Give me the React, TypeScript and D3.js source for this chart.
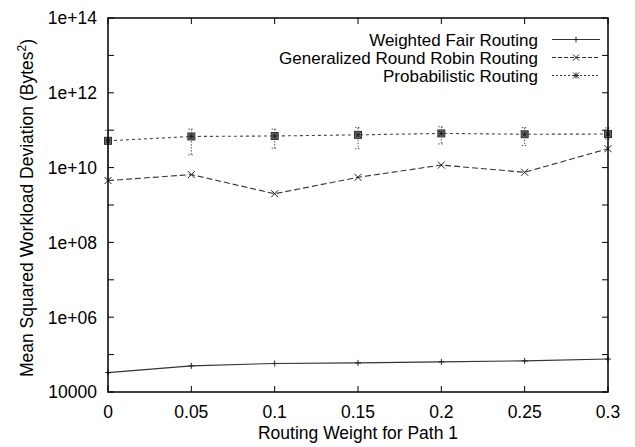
import React from "react";
import * as d3 from "d3";

const xs = [0, 0.05, 0.1, 0.15, 0.2, 0.25, 0.3];
const wfr = [3.3e4, 5.0e4, 5.8e4, 6.0e4, 6.4e4, 6.8e4, 7.6e4];
const grr = [4.5e9, 6.5e9, 2.0e9, 5.5e9, 1.17e10, 7.5e9, 3.2e10];
const prob = [5.2e10, 6.8e10, 7.0e10, 7.5e10, 8.2e10, 7.8e10, 7.9e10];
const probLow = [5.2e9, 2.2e10, 3.3e10, 3.2e10, 4.3e10, 3.9e10, 5.8e10];
const probHigh = [1.0e11, 1.07e11, 1.07e11, 1.17e11, 1.23e11, 1.17e11, 1.15e11];
const xTicks = [0, 0.05, 0.1, 0.15, 0.2, 0.25, 0.3];
const xTickLabels = ["0", "0.05", "0.1", "0.15", "0.2", "0.25", "0.3"];
const yExps = [4, 5, 6, 7, 8, 9, 10, 11, 12, 13, 14];
const seriesNames = ["Weighted Fair Routing", "Generalized Round Robin Routing", "Probabilistic Routing"];

const W = 635, H = 447;
const L = 108, R = 608, T = 18, B = 392;
const FONT = "'Liberation Sans', Arial, Helvetica, sans-serif";
const FS = 17.5;

const x = d3.scaleLinear().domain([0, 0.3]).range([L, R]);
const y = d3.scaleLog().domain([1e4, 1e14]).range([B, T]);

const plus = (cx: number, cy: number, s = 3, key?: any) => (
  <g key={key} stroke="#222" strokeWidth={1}>
    <line x1={cx - s} x2={cx + s} y1={cy} y2={cy} />
    <line x1={cx} x2={cx} y1={cy - s} y2={cy + s} />
  </g>
);
const cross = (cx: number, cy: number, s = 3.5, key?: any) => (
  <g key={key} stroke="#222" strokeWidth={1}>
    <line x1={cx - s} x2={cx + s} y1={cy - s} y2={cy + s} />
    <line x1={cx - s} x2={cx + s} y1={cy + s} y2={cy - s} />
  </g>
);
const star = (cx: number, cy: number, s = 3, key?: any) => (
  <g key={key} stroke="#222" strokeWidth={1}>
    <line x1={cx - s} x2={cx + s} y1={cy - s} y2={cy + s} />
    <line x1={cx - s} x2={cx + s} y1={cy + s} y2={cy - s} />
    <line x1={cx - s} x2={cx + s} y1={cy} y2={cy} />
    <line x1={cx} x2={cx} y1={cy - s} y2={cy + s} />
  </g>
);

export default function App() {
  const line = (vals: number[]) =>
    d3.line<number>().x((_, i) => x(xs[i])).y((v) => y(v))(vals) as string;
  const yLabel = (e: number) => (e === 4 ? "10000" : `1e+${String(e).padStart(2, "0")}`);

  return (
    <svg width={W} height={H} style={{ position: "absolute", left: 0, top: 0, background: "#fff" }} fontFamily={FONT}>
      <rect x={0} y={0} width={W} height={H} fill="#fff" />
      {/* y ticks */}
      {yExps.map((e) => {
        const yy = y(Math.pow(10, e));
        return (
          <g key={"y" + e} stroke="#000" strokeWidth={1}>
            <line x1={L} x2={L + 6} y1={yy} y2={yy} />
            <line x1={R} x2={R - 6} y1={yy} y2={yy} />
          </g>
        );
      })}
      {yExps.filter((e) => e % 2 === 0).map((e) => (
        <text key={"yl" + e} x={97} y={y(Math.pow(10, e))} dy="0.36em" textAnchor="end" fontSize={FS} fill="#000">
          {yLabel(e)}
        </text>
      ))}
      {/* x ticks */}
      {xTicks.map((t, i) => (
        <g key={"x" + i}>
          <line x1={x(t)} x2={x(t)} y1={B} y2={B - 6} stroke="#000" strokeWidth={1} />
          <line x1={x(t)} x2={x(t)} y1={T} y2={T + 6} stroke="#000" strokeWidth={1} />
          <text x={x(t)} y={418} textAnchor="middle" fontSize={FS} fill="#000">{xTickLabels[i]}</text>
        </g>
      ))}
      {/* axis titles */}
      <text x={358} y={439} textAnchor="middle" fontSize={FS} fill="#000">Routing Weight for Path 1</text>
      <text transform={`translate(33,${(T + B) / 2 + 3}) rotate(-90)`} textAnchor="middle" fontSize={FS} fill="#000">
        Mean Squared Workload Deviation (Bytes<tspan dy={-7} fontSize={12}>2</tspan><tspan dy={7}>)</tspan>
      </text>

      {/* Weighted Fair Routing */}
      <path d={line(wfr)} fill="none" stroke="#333" strokeWidth={1.1} />
      {wfr.map((v, i) => plus(x(xs[i]), y(v), 3, "p" + i))}

      {/* GRR */}
      <path d={line(grr)} fill="none" stroke="#333" strokeWidth={1.1} strokeDasharray="6,3" />
      {grr.map((v, i) => cross(x(xs[i]), y(v), 3.5, "c" + i))}

      {/* Probabilistic error bars */}
      {prob.map((_, i) => {
        const cx = x(xs[i]);
        const y1 = y(probHigh[i]);
        const y2 = y(probLow[i]);
        return (
          <g key={"e" + i} stroke="#555" strokeWidth={1} strokeDasharray="1.5,1.5">
            <line x1={cx} x2={cx} y1={y1} y2={y2} />
            <line x1={cx - 3} x2={cx + 3} y1={y1} y2={y1} />
            <line x1={cx - 3} x2={cx + 3} y1={y2} y2={y2} />
          </g>
        );
      })}
      <path d={line(prob)} fill="none" stroke="#444" strokeWidth={1.1} strokeDasharray="3,3" />
      {prob.map((v, i) => {
        const cx = x(xs[i]);
        const cy = y(v);
        return (
          <g key={"s" + i}>
            <rect x={cx - 3.5} y={cy - 3.5} width={7} height={7} fill="#777" stroke="#333" strokeWidth={1} />
            {star(cx, cy, 2.5)}
          </g>
        );
      })}

      {/* border */}
      <rect x={L} y={T} width={R - L} height={B - T} fill="none" stroke="#000" strokeWidth={1.5} />

      {/* legend */}
      {seriesNames.map((n, i) => {
        const ly = 39.5 + i * 18;
        return (
          <g key={"lg" + i}>
            <text x={538} y={ly} dy="0.36em" textAnchor="end" fontSize={17} fill="#000">{n}</text>
            <line x1={552} x2={600} y1={ly} y2={ly} stroke="#333" strokeWidth={1.1}
              strokeDasharray={i === 0 ? undefined : i === 1 ? "4,2" : "2,2"} />
            {i === 0 ? plus(576, ly, 3) : i === 1 ? cross(576, ly, 3) : star(576, ly, 3)}
          </g>
        );
      })}
    </svg>
  );
}
